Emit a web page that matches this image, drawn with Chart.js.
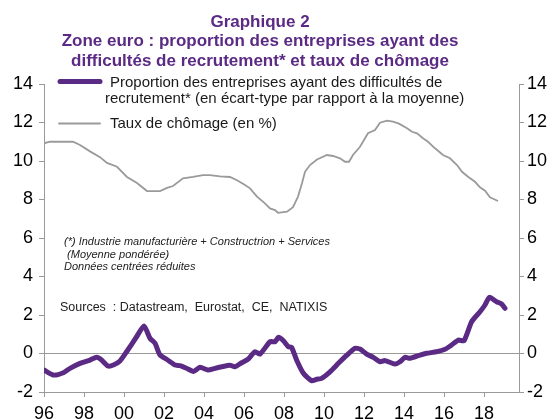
<!DOCTYPE html>
<html lang="fr">
<head>
<meta charset="utf-8">
<title>Graphique 2</title>
<script src="https://cdn.jsdelivr.net/npm/chart.js@4.4.1/dist/chart.umd.min.js"></script>
<style>
  html, body { margin: 0; padding: 0; background: #fff; }
  canvas { display: block; }
</style>
</head>
<body>
<canvas id="myChart" width="553" height="419"></canvas>
<script>
// Titre, légende, notes
const titleLines = [
  "Graphique 2",
  "Zone euro : proportion des entreprises ayant des",
  "difficultés de recrutement* et taux de chômage",
];
const labelRecrut = [
  "Proportion des entreprises ayant des difficultés de",
  "recrutement* (en écart-type par rapport à la moyenne)",
];
const labelChomage = "Taux de chômage (en %)";
const notes = [
  "(*) Industrie manufacturière + Constructrion + Services",
  " (Moyenne pondérée)",
  "Données centrées réduites",
];
const sources = "Sources  : Datastream,  Eurostat,  CE,  NATIXIS";

// Taux de chômage (en %)
const chomageYears = [
  1996.0, 1996.3, 1997.45, 1997.8, 1998.3, 1998.8, 1999.15, 1999.65, 2000.15, 2000.65,
  2001.15, 2001.8, 2002.15, 2002.45, 2002.95, 2003.45, 2003.95, 2004.3, 2004.8, 2005.3,
  2005.65, 2006.05, 2006.3, 2006.65, 2007.05, 2007.3, 2007.55, 2007.7, 2008.15, 2008.45,
  2008.7, 2008.9, 2009.05, 2009.3, 2009.65, 2010.15, 2010.45, 2010.8, 2011.05, 2011.25,
  2011.45, 2011.8, 2012.2, 2012.55, 2012.8, 2013.15, 2013.45, 2013.75, 2014.15, 2014.4,
  2014.65, 2014.95, 2015.2, 2015.55, 2015.95, 2016.3, 2016.65, 2016.9, 2017.2, 2017.55,
  2017.8, 2018.05, 2018.3, 2018.7,
];
const chomageValues = [
  10.92, 11.0, 11.0, 10.83, 10.5, 10.2, 9.9, 9.7, 9.17, 8.86,
  8.44, 8.44, 8.6, 8.7, 9.1, 9.17, 9.27, 9.27, 9.2, 9.17,
  9.0, 8.75, 8.58, 8.15, 7.8, 7.54, 7.45, 7.31, 7.37, 7.6,
  8.15, 8.84, 9.44, 9.79, 10.08, 10.31, 10.26, 10.14, 9.96, 9.96,
  10.31, 10.74, 11.44, 11.61, 11.99, 12.1, 12.04, 11.94, 11.7, 11.52,
  11.44, 11.18, 11.0, 10.66, 10.31, 10.14, 9.79, 9.44, 9.18, 8.92,
  8.63, 8.46, 8.11, 7.92,
];

// Difficultés de recrutement (écart-type)
const recrutYears = [
  1996.0, 1996.47, 1996.97, 1997.3, 1997.8, 1998.3, 1998.63, 1998.88, 1999.2, 1999.47,
  1999.8, 2000.13, 2000.63, 2001.0, 2001.3, 2001.55, 2001.8, 2002.13, 2002.55, 2002.8,
  2003.13, 2003.47, 2003.8, 2004.2, 2004.55, 2004.88, 2005.3, 2005.55, 2005.88, 2006.2,
  2006.55, 2006.8, 2007.3, 2007.55, 2007.72, 2007.97, 2008.22, 2008.38, 2008.63, 2008.97,
  2009.38, 2009.63, 2009.88, 2010.3, 2010.72, 2011.13, 2011.55, 2011.8, 2012.13, 2012.47,
  2012.8, 2013.05, 2013.55, 2013.8, 2014.05, 2014.3, 2014.8, 2015.13, 2015.63, 2016.05,
  2016.38, 2016.72, 2017.0, 2017.38, 2017.8, 2018.05, 2018.27, 2018.63, 2018.88, 2019.05,
];
const recrutValues = [
  -0.86, -1.12, -1.0, -0.77, -0.51, -0.34, -0.2, -0.34, -0.65, -0.6,
  -0.39, 0.09, 0.87, 1.43, 0.79, 0.53, -0.08, -0.3, -0.6, -0.63,
  -0.77, -0.93, -0.72, -0.86, -0.77, -0.69, -0.61, -0.69, -0.48, -0.3,
  0.09, -0.03, 0.61, 0.61, 0.84, 0.66, 0.35, 0.32, -0.34, -1.03,
  -1.41, -1.34, -1.29, -0.95, -0.51, -0.1, 0.27, 0.23, -0.03, -0.2,
  -0.43, -0.37, -0.55, -0.43, -0.2, -0.25, -0.08, 0.01, 0.09, 0.22,
  0.44, 0.7, 0.66, 1.65, 2.17, 2.52, 2.92, 2.69, 2.57, 2.35,
];

const violet = "#5b2a84";
const gris = "#9a9a9a";
const police = "'Liberation Sans', Arial, sans-serif";

// Titre + légende + notes dessinés sur le canvas
const textes = {
  id: "textes",
  afterDraw(chart) {
    const c = chart.ctx;
    c.save();
    c.textBaseline = "alphabetic";

    // titre
    c.fillStyle = violet;
    c.font = "bold 17px " + police;
    c.textAlign = "center";
    titleLines.forEach((t, i) => c.fillText(t, 260, 26.5 + i * 19.8));

    // légende
    c.textAlign = "left";
    c.lineCap = "round";
    c.strokeStyle = violet;
    c.lineWidth = 5;
    c.beginPath();
    c.moveTo(60, 81.5);
    c.lineTo(100, 81.5);
    c.stroke();
    c.strokeStyle = gris;
    c.lineWidth = 1.8;
    c.beginPath();
    c.moveTo(59, 123.5);
    c.lineTo(100, 123.5);
    c.stroke();

    c.fillStyle = "#1a1a1a";
    c.font = "15px " + police;
    c.fillText(labelRecrut[0], 110, 86.5);
    c.fillText(labelRecrut[1], 105, 103.3);
    c.fillText(labelChomage, 110, 128.3);

    // notes
    c.font = "italic 11px " + police;
    c.fillStyle = "#222";
    notes.forEach((t, i) => c.fillText(t, 64, 245 + i * 12.5));

    c.font = "12.5px " + police;
    c.fillText(sources, 60, 311);
    c.restore();
  },
};

const ctx = document.getElementById("myChart").getContext("2d");
new Chart(ctx, {
  type: "line",
  data: {
    datasets: [
      {
        label: labelChomage,
        data: chomageYears.map((x, i) => ({ x: x, y: chomageValues[i] })),
        borderColor: gris,
        borderWidth: 1.8,
        pointRadius: 0,
        tension: 0,
        order: 2,
      },
      {
        label: labelRecrut.join(" "),
        data: recrutYears.map((x, i) => ({ x: x, y: recrutValues[i] })),
        borderColor: violet,
        borderWidth: 5,
        borderCapStyle: "round",
        borderJoinStyle: "round",
        pointRadius: 0,
        tension: 0.2,
        order: 1,
      },
    ],
  },
  options: {
    responsive: false,
    animation: false,
    devicePixelRatio: 1,
    layout: { padding: { top: 84, left: 0, right: 0, bottom: 0 } },
    plugins: {
      legend: { display: false },
      title: { display: false },
      tooltip: { enabled: false },
    },
    scales: {
      x: {
        type: "linear",
        min: 1996,
        max: 2019.75,
        afterFit: (s) => { s.height = 27; },
        border: { display: true, color: gris, width: 1 },
        grid: { drawOnChartArea: false, tickLength: 5, tickColor: gris },
        ticks: {
          stepSize: 2,
          includeBounds: false,
          padding: 6,
          maxRotation: 0,
          color: "#000",
          font: { family: police, size: 18 },
          callback: (v) => String(v % 100).padStart(2, "0"),
        },
      },
      y: {
        position: "left",
        min: -2,
        max: 14,
        afterFit: (s) => { s.width = 44; },
        border: { display: true, color: gris, width: 1 },
        grid: {
          tickLength: 5,
          tickColor: gris,
          color: (c) => (c.tick && c.tick.value === 0 ? gris : "rgba(0,0,0,0)"),
        },
        ticks: {
          stepSize: 2,
          padding: 6,
          color: "#000",
          font: { family: police, size: 18 },
        },
      },
      y2: {
        position: "right",
        min: -2,
        max: 14,
        afterFit: (s) => { s.width = 34; },
        border: { display: true, color: gris, width: 1 },
        grid: { drawOnChartArea: false, tickLength: 5, tickColor: gris },
        ticks: {
          stepSize: 2,
          padding: 3,
          color: "#000",
          font: { family: police, size: 18 },
        },
      },
    },
  },
  plugins: [textes],
});
</script>
</body>
</html>
